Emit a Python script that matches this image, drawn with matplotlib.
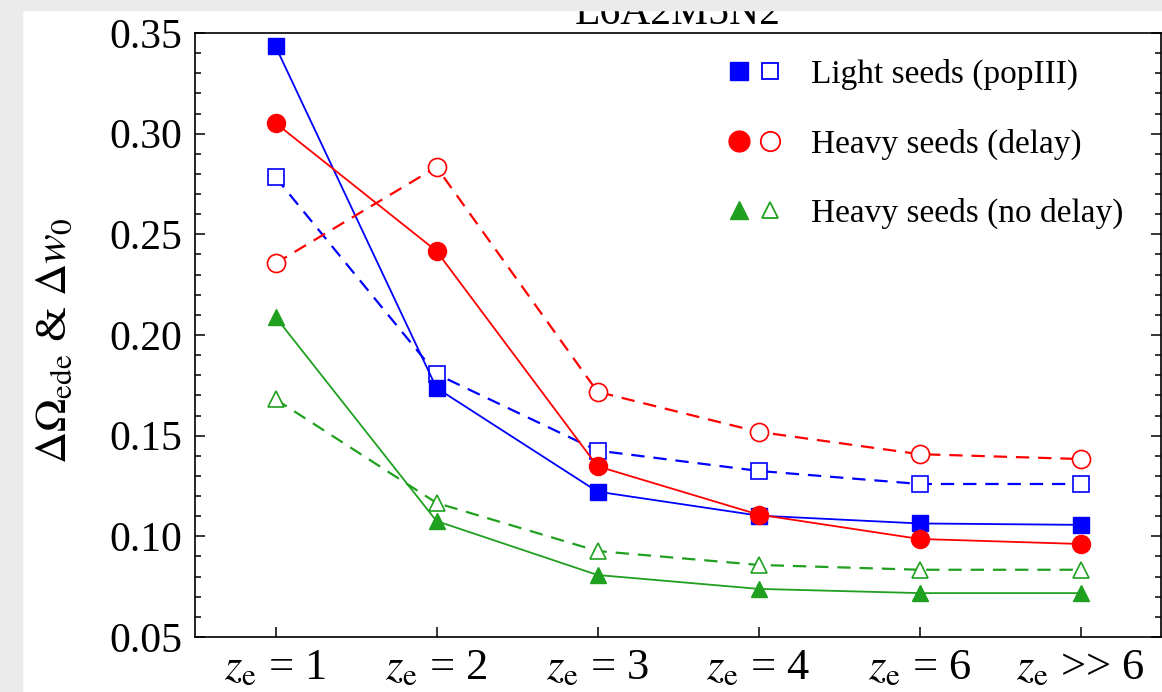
import numpy as np
import matplotlib
matplotlib.use("Agg")
import matplotlib.pyplot as plt
from matplotlib.lines import Line2D
from matplotlib.patches import Rectangle
from matplotlib.legend_handler import HandlerTuple

plt.rcParams["font.family"] = ["Liberation Serif", "DejaVu Serif"]
plt.rcParams["mathtext.fontset"] = "stix"

# epoch labels
tick_labels = [r"$z_{\rm e}$ = 1", r"$z_{\rm e}$ = 2", r"$z_{\rm e}$ = 3",
               r"$z_{\rm e}$ = 4", r"$z_{\rm e}$ = 6", r"$z_{\rm e}$ >> 6"]
x = np.arange(1, len(tick_labels) + 1)

# filled markers / solid lines
light_solid = [0.3434, 0.1737, 0.1222, 0.1103, 0.1064, 0.1057]
delay_solid = [0.3053, 0.2417, 0.1348, 0.1108, 0.0987, 0.0962]
nodelay_solid = [0.2090, 0.1076, 0.0808, 0.0739, 0.0718, 0.0718]

# open markers / dashed lines
light_dash = [0.2784, 0.1806, 0.1426, 0.1325, 0.1260, 0.1260]
delay_dash = [0.2356, 0.2834, 0.1718, 0.1519, 0.1408, 0.1384]
nodelay_dash = [0.1681, 0.1166, 0.0927, 0.0858, 0.0834, 0.0834]

labels = ["Light seeds (popIII)", "Heavy seeds (delay)", "Heavy seeds (no delay)"]
blue, red, green = "#0000ff", "#ff0000", "#1fa01f"

fig = plt.figure(figsize=(11.62, 6.92), dpi=100)
ax = fig.add_axes([195 / 1162, 1 - 637 / 692, 966 / 1162, 604 / 692])

series = [
    (light_solid, light_dash, blue, "s", 11.5, 13),
    (delay_solid, delay_dash, red, "o", 13, 15),
    (nodelay_solid, nodelay_dash, green, "^", 12, 13),
]
handles = []
for solid, dash, c, m, ms, lms in series:
    ax.plot(x, dash, ls=(0, (6, 4)), lw=1.6, color=c, marker=m, ms=ms,
            mfc="white", mec=c, mew=1.2)
    ax.plot(x, solid, ls="-", lw=1.3, color=c, marker=m, ms=ms,
            mfc=c, mec=c)
    h1 = Line2D([], [], ls="none", marker=m, ms=lms, mfc=c, mec=c)
    h2 = Line2D([], [], ls="none", marker=m, ms=lms - 1, mfc="white", mec=c, mew=1.3)
    handles.append((h1, h2))

ax.legend(handles, labels, handler_map={tuple: HandlerTuple(ndivide=None, pad=0.1)},
          loc="upper left", bbox_to_anchor=(0.548, 0.957), frameon=False,
          fontsize=24, handlelength=1.8, handletextpad=0.8, labelspacing=1.15,
          borderpad=0, borderaxespad=0)

ax.set_xlim(0.5, 6.5)
ax.set_ylim(0.05, 0.35)
ax.set_xticks(x)
ax.set_xticklabels(tick_labels)
ax.set_yticks(np.arange(0.05, 0.351, 0.05))
ax.set_yticklabels(["%.2f" % v for v in np.arange(0.05, 0.351, 0.05)])
ax.set_yticks(np.arange(0.05, 0.351, 0.01), minor=True)
ax.tick_params(axis="both", which="both", direction="in", top=False, right=True,
               width=1.1)
ax.tick_params(axis="y", which="major", labelsize=30, length=7, pad=9)
ax.tick_params(axis="x", which="major", labelsize=32, length=7, pad=8)
ax.tick_params(axis="y", which="minor", length=4)
for s in ax.spines.values():
    s.set_linewidth(1.2)

ax.set_ylabel(r"$\Delta\Omega_{\rm ede}$ & $\Delta w_0$", fontsize=32)
ax.yaxis.set_label_coords(-0.124, 0.49)
ax.set_title("L6A2M5N2", fontsize=30, pad=6)

# screenshot border
fig.patches.append(Rectangle((0, 0), 22 / 1162, 1, transform=fig.transFigure,
                             color="#ebebeb", zorder=10))
fig.patches.append(Rectangle((0, 1 - 10 / 692), 1, 10 / 692, transform=fig.transFigure,
                             color="#ebebeb", zorder=10))

fig.savefig("out.png", dpi=100)
